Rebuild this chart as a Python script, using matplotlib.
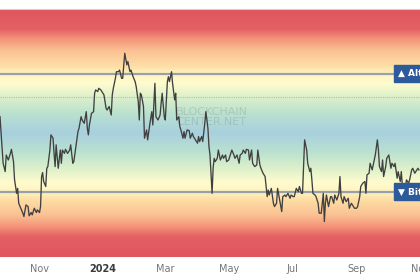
import matplotlib
matplotlib.use("Agg")
import matplotlib.pyplot as plt
import matplotlib.dates as mdates
import matplotlib.transforms as mtransforms
from matplotlib.colors import LinearSegmentedColormap
import numpy as np
import pandas as pd

# ---------------- data ----------------
start_date = "2023-09-24"
day_offsets = [
    0, 3, 5, 6, 8, 10, 11, 13, 14, 16, 17, 18, 20, 22, 23, 25, 27, 28, 30, 31,
    33, 35, 36, 38, 39, 40, 41, 42, 44, 45, 46, 48, 49, 51, 52, 53, 54, 56, 58, 59,
    60, 62, 63, 65, 67, 68, 70, 71, 73, 75, 76, 78, 79, 81, 83, 84, 85, 86, 88, 90,
    91, 92, 94, 95, 97, 99, 100, 102, 103, 105, 107, 108, 109, 111, 112, 114, 115, 117, 118, 120,
    122, 123, 125, 126, 128, 130, 131, 133, 134,
    135, 136, 138, 139, 141, 142, 144, 146, 147, 149, 150, 152, 154, 155, 156, 158, 159, 161, 162, 163,
    165, 166, 168, 169, 170, 172, 173, 174, 176, 177, 178, 180, 182, 183, 185, 186, 188, 190, 191, 192,
    194, 195, 197, 198, 200, 201, 202, 204, 205, 206, 207, 209, 210, 212, 214, 215, 217, 218, 220, 222,
    223, 225, 226, 228, 230, 231, 233, 234, 236, 237, 239, 240, 242, 243, 245, 247, 248, 250, 251, 253,
    255, 256, 257, 258, 259, 261, 263, 264, 266, 267,
    269, 271, 272, 274, 275, 277, 279, 280, 282, 283, 285, 287, 288, 290, 291, 293, 295, 296, 298, 299,
    300, 301, 303, 304, 306, 307, 309, 311, 312, 313, 314, 316, 318, 319, 321, 322, 324, 326, 327, 328,
    330, 331, 333, 335, 336, 338, 339, 341, 343, 344, 346, 347, 349, 351, 352, 353, 355, 356, 358, 360,
    361, 363, 364, 365, 367, 368, 369, 371, 372, 374, 376, 377, 379, 380, 382, 383, 385, 386, 388, 390,
    391, 393, 394, 396, 397, 399, 400, 402, 403,
]
index_values = [
    56.8, 37.1, 33.6, 40.6, 38.5, 41.3, 43, 37.8, 30.1, 24.4, 26.5, 20.2, 18.1, 16, 14.6, 19.5, 18.8, 14.9, 16.3, 15.3,
    18.1, 16.3, 17.4, 16.3, 18.8, 31.5, 33.2, 29.4, 27.3, 35, 35.7, 42.7, 49.1, 47.7, 41.3, 35.7, 44.9, 35, 42.7, 37.1,
    42.7, 41.3, 43, 41.3, 42.7, 44.9, 37.1, 37.8, 44.2, 50.5, 51.9, 56.8, 55.4, 54, 58.9, 51.9, 49.1, 53.3, 58.2, 58.9,
    66.7, 68.1, 67.4, 68.8, 68.1, 66.7, 66, 60.4, 59.6, 61.1, 57.5, 66, 68.8, 73, 75.8, 75.8, 76.5, 73, 73, 83.6,
    78.7, 80.1, 75.8, 76.5, 73.7, 71.6, 69.5, 63.2, 55.4,
    66.7, 66, 61.1, 47.7, 51.2, 47, 53.3, 58.9, 53.3, 70.9, 56.8, 55.4, 57.5, 62.5, 66.7, 56.8, 55.4, 71.6, 73.7, 71.6,
    75.8, 70.9, 63.9, 66.7, 55.4, 56.8, 52.6, 51.2, 47.7, 50.5, 47.7, 51.2, 50.9, 47.7, 49.8, 48.4, 47, 45.6, 48.4, 46.3,
    48.4, 46.3, 54, 58.9, 51.9, 44.2, 40.6, 24.4, 35, 39.2, 37.8, 39.2, 42.7, 38.5, 40.6, 39.2, 40.6, 37.8, 38.5, 41.3,
    42.7, 40.6, 39.2, 40.6, 37.1, 40.6, 41.3, 42.7, 41.3, 43, 42.7, 38.5, 42.7, 37.1, 35.7, 36.4, 42.7, 36.4, 35, 32.9,
    31.5, 27.3, 23, 25.8, 23.7, 26.5, 20.2, 18.8, 20.2, 26.5,
    21.6, 16.7, 23, 23.7, 23, 24.4, 22.3, 23.7, 23, 23, 26.5, 25.1, 27.3, 24.4, 24.4, 47, 42.7, 37.1, 33.6, 35,
    30.1, 24.4, 23.7, 23, 20.2, 16, 16, 24.4, 12.5, 20.2, 23.7, 18.8, 23, 23, 20.2, 23.7, 21.6, 24.4, 31.5, 23,
    20.2, 23, 20.9, 22.3, 18.1, 20.2, 19.5, 18.1, 18.1, 18.8, 23, 27.3, 28.7, 29.4, 24.4, 32.2, 32.9, 37.1, 34.3, 38.5,
    40.6, 47, 42.7, 35.7, 33.6, 38.5, 31.5, 35.7, 39.2, 40.6, 35, 37.1, 35.7, 37.1, 30.8, 33.6, 29.4, 33.6, 22.3, 27.3,
    30.1, 28.7, 30.1, 34.3, 35, 32.9, 33.6, 35, 34.3,
]
tick_dates = ["2023-11-01", "2024-01-01", "2024-03-01", "2024-05-01",
              "2024-07-01", "2024-09-01", "2024-11-01"]
tick_labels = ["Nov", "2024", "Mar", "May", "Jul", "Sep", "Nov"]
altseason_level = 75
bitcoin_level = 25
reference_level = 65
alt_label = "▲ Altcoin Season"
btc_label = "▼ Bitcoin Season"
watermark = "BLOCKCHAIN\nCENTER.NET"

# ---------------- figure ----------------
dates = pd.Timestamp(start_date) + pd.to_timedelta(day_offsets, unit="D")

fig = plt.figure(figsize=(4.2, 2.8), dpi=100)
ax = fig.add_axes([0, 1 - 257 / 280, 1, 248 / 280])
ylo, yhi = -2.5, 102.3
x0 = mdates.date2num(pd.Timestamp(start_date))
x1 = x0 + 403.5

# background gradient (symmetric around 50)
stops = [
    (0.00, (168, 208, 222)),
    (8 / 52, (186, 225, 207)),
    (15 / 52, (220, 240, 202)),
    (21 / 52, (255, 252, 206)),
    (25 / 52, (255, 242, 192)),
    (28 / 52, (254, 224, 167)),
    (35 / 52, (250, 192, 146)),
    (40 / 52, (243, 145, 120)),
    (44 / 52, (227, 96, 99)),
    (1.00, (224, 86, 94)),
]
cmap = LinearSegmentedColormap.from_list(
    "band", [(p, tuple(c / 255 for c in col)) for p, col in stops])
yy = np.linspace(ylo, yhi, 600)
dist = np.clip(np.abs(yy - 50) / 52, 0, 1)
grad = cmap(dist)[:, None, :3]
ax.imshow(grad, extent=[x0, x1, ylo, yhi], origin="lower", aspect="auto",
          zorder=0, interpolation="bilinear")

ax.axhline(altseason_level, color="#98a0aa", lw=1.6, zorder=2)
ax.axhline(bitcoin_level, color="#98a0aa", lw=1.6, zorder=2)
ax.axhline(reference_level, color="#b4bcbc", lw=0.8, ls=(0, (1, 1)), zorder=2)

trans = mtransforms.blended_transform_factory(ax.transAxes, ax.transData)
ax.text(0.5 * (181 + 242) / 420, 56.7, watermark, transform=trans,
        ha="center", va="center", fontsize=8, color="#7f8c8c", alpha=0.3,
        linespacing=0.95, zorder=1)

ax.plot(dates, index_values, color="#404040", lw=0.95, zorder=3)

for lvl, txt in [(altseason_level, alt_label), (bitcoin_level, btc_label)]:
    ax.text(398 / 420, lvl, txt, transform=trans, ha="left", va="center",
            fontsize=6.5, fontweight="bold", color="white", zorder=5,
            clip_on=False,
            bbox=dict(boxstyle="square,pad=0.45", fc="#2d5a9a", ec="#2d5a9a"))

ax.set_xlim(x0, x1)
ax.set_ylim(ylo, yhi)
ax.set_yticks([])
ax.set_xticks([mdates.date2num(pd.Timestamp(d)) for d in tick_dates])
ax.set_xticklabels(tick_labels)
ax.tick_params(axis="x", length=0, pad=5, labelsize=7, labelcolor="#777777")
for lab in ax.get_xticklabels():
    if lab.get_text().isdigit():
        lab.set_color("#3a3a3a")
        lab.set_fontweight("bold")

for s in ["left", "right", "bottom"]:
    ax.spines[s].set_visible(False)
ax.spines["top"].set_color("#cfcfcf")
ax.spines["top"].set_linewidth(0.8)

fig.savefig("out.png", dpi=100)
